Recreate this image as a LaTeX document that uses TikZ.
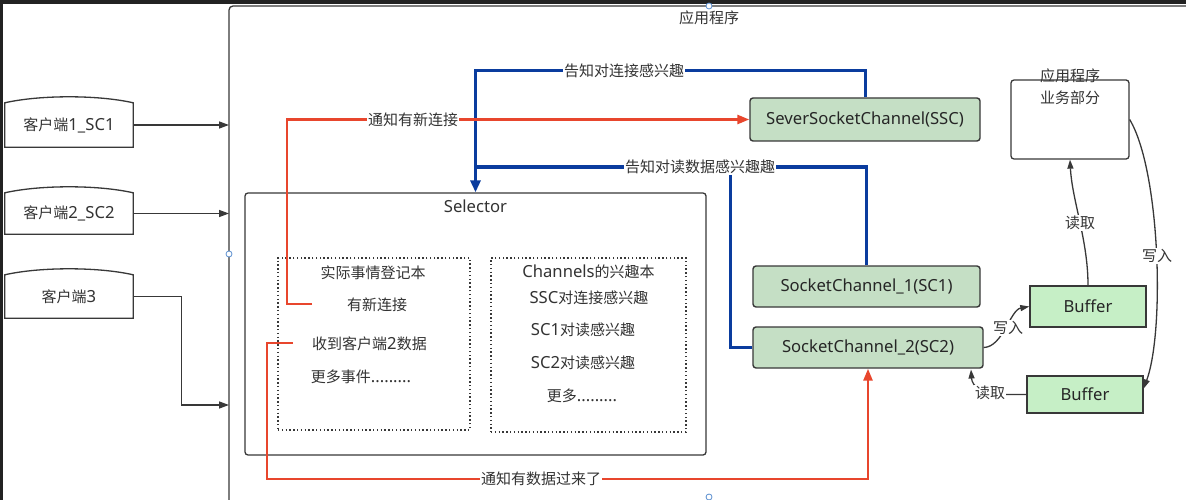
\documentclass[tikz,border=0pt]{standalone}
\usepackage{fontspec}
\setmainfont{Noto Sans CJK SC}
\newfontfamily\lat[Scale=1.11]{Noto Sans}
\usetikzlibrary{arrows.meta}
\definecolor{txt}{HTML}{333333}
\definecolor{chg}{HTML}{C5DFC5}
\definecolor{bufg}{HTML}{C6EFC6}
\definecolor{blu}{HTML}{0A3C9E}
\definecolor{rd}{HTML}{E8462D}
\definecolor{edgec}{HTML}{383838}
\definecolor{hdl}{HTML}{5B8FD0}
\definecolor{framec}{HTML}{222222}
\begin{document}
\begin{tikzpicture}[x=1pt,y=-1pt,
  font=\fontsize{15}{18}\selectfont,
  every node/.style={text=txt},
  chbox/.style={draw=edgec, line width=1.4pt, fill=chg, rounded corners=3pt, inner sep=0pt, text=black!85},
  bufbox/.style={draw=edgec, line width=1.4pt, fill=bufg, inner sep=0pt, text=black!85},
  plainbox/.style={draw=edgec, line width=1.3pt, rounded corners=3pt, inner sep=0pt},
  dotbox/.style={draw=edgec, line width=1.2pt, dash pattern=on 1.4pt off 2.4pt, inner sep=0pt},
  clientbox/.style={draw=none, inner sep=0pt},
  clientshape/.style={draw=edgec, line width=1.3pt},
  arr/.style={draw=edgec, line width=1.3pt, -{Triangle[length=10pt,width=7pt]}},
  blk/.style={draw=edgec, line width=1.3pt, -{Triangle[length=9pt,width=6pt]}},
  bl/.style={draw=blu, line width=3pt},
  bla/.style={bl, -{Triangle[length=12pt,width=10pt]}},
  rl/.style={draw=rd, line width=2.6pt},
  rla/.style={rl, -{Triangle[length=12pt,width=9pt]}},
  lbl/.style={fill=white, inner sep=1pt},
  handle/.style={draw=hdl, fill=white, line width=0.8pt}
]
\useasboundingbox (0,0) rectangle (1186,500);
\fill[white] (0,0) rectangle (1186,500);
\fill[framec] (0,0) rectangle (1186,4);
\fill[framec] (0,0) rectangle (3,500);

% application frame
\draw[edgec, line width=1.3pt, rounded corners=4pt] (1186,6) -- (229,6) -- (229,500);
\coordinate (appL) at (229,6);
\node (apptitle) at (709,18) {应用程序};

% clients
\node[clientbox, minimum width=128pt, minimum height=44pt] (c1) at (69,125) {客户端{\lat 1\_SC1}};
\node[clientbox, minimum width=128pt, minimum height=41pt] (c2) at (69,213.5) {客户端{\lat 2\_SC2}};
\node[clientbox, minimum width=128pt, minimum height=43pt] (c3) at (69,296.5) {客户端{\lat 3}};
\foreach \c in {c1,c2,c3}{
  \draw[clientshape] (\c.south west) -- (\c.north west) .. controls +(35,-8) and +(-35,-8) .. (\c.north east) -- (\c.south east) -- cycle;
}
\coordinate (c3in) at (229,405);
\draw[arr] (c1.east) -- (c1.east -| appL);
\draw[arr] (c2.east) -- (c2.east -| appL);
\draw[arr] (c3.east) -- ++(48,0) |- (c3in);

% selector
\node[plainbox, minimum width=461pt, minimum height=262pt] (sel) at (475.5,324) {};
\node (seltitle) at (475.5,206) {\lat Selector};
\node[dotbox, minimum width=192pt, minimum height=172pt] (reg) at (374,344) {};
\node[dotbox, minimum width=195pt, minimum height=174pt] (intr) at (588.5,345) {};
\node (t1) at (373,273) {实际事情登记本};
\node (t2) at (377,305) {有新连接};
\node (t3) at (369.5,344) {收到客户端{\lat 2}数据};
\node (t4) at (361,377) {更多事件{\lat .........}};
\node (u1) at (588.5,272) {{\lat Channels}的兴趣本};
\node (u2) at (589,298) {{\lat SSC}对连接感兴趣};
\node (u3) at (583,330) {{\lat SC1}对读感兴趣};
\node (u4) at (583,363) {{\lat SC2}对读感兴趣};
\node (u5) at (582,396) {更多{\lat .........}};

% channels
\node[chbox, minimum width=230pt, minimum height=43pt] (ssc) at (865,119.5) {\lat SeverSocketChannel(SSC)};
\node[chbox, minimum width=227pt, minimum height=41pt] (sc1) at (866.5,286.5) {\lat SocketChannel\_1(SC1)};
\node[chbox, minimum width=230pt, minimum height=41pt] (sc2) at (868,347.5) {\lat SocketChannel\_2(SC2)};

% business box and buffers
\node[plainbox, fill=white, minimum width=118pt, minimum height=79pt] (app) at (1070,119.5) {};
\node[align=center, inner sep=0pt, font=\fontsize{15}{22}\selectfont] (apptxt) at (1070,87) {应用程序\\业务部分};
\node[bufbox, minimum width=116pt, minimum height=41pt] (buf1) at (1088,306.5) {\lat Buffer};
\node[bufbox, minimum width=116pt, minimum height=37pt] (buf2) at (1085,394.5) {\lat Buffer};

% blue connectors
\coordinate (bTL) at (475.5,71);
\coordinate (bJ) at (475.5,167);
\coordinate (bL) at (730,167);
\draw[bl] (sc1.north) |- (bJ);
\draw[bl] (sc2.west) -| (bL);
\draw[bla] (ssc.north) |- (bTL) -- (sel.north);
\node[lbl] (lb1) at (624,71) {告知对连接感兴趣};
\node[lbl] (lb2) at (700,167) {告知对读数据感兴趣趣};

% red connectors
\coordinate (r1s) at (312,304);
\coordinate (r1c) at (287,119.5);
\coordinate (r2s) at (293,343);
\coordinate (r2c) at (267,479);
\draw[rla] (r1s) -| (r1c) -- (ssc.west);
\draw[rla] (r2s) -| (r2c) -| (sc2.south);
\node[lbl] (lr1) at (413,120) {通知有新连接};
\node[lbl] (lr2) at (541,479) {通知有数据过来了};

% black curved connectors
\coordinate (sc2in) at (971,369.5);
\draw[blk] (sc2.east) .. controls (1003,347) and (1010,310) .. (buf1.west);
\draw[blk] (buf2.west) -- (1000,394.5) .. controls (982,394.5) and (972,386) .. (sc2in);
\draw[blk] (buf1.north) .. controls (1088,240) and (1072,200) .. (app.south);
\draw[blk] (app.east) .. controls (1160,170) and (1165,330) .. ([yshift=6pt]buf2.east);
\node[lbl] (lw1) at (1008,328) {写入};
\node[lbl] (lrd1) at (990,393) {读取};
\node[lbl] (lrd2) at (1080,223) {读取};
\node[lbl] (lw2) at (1157,256) {写入};

% selection handles
\draw[handle] (709,6) circle (3pt);
\draw[handle] (229,254) circle (3pt);
\draw[handle] (709,497) circle (3pt);
\end{tikzpicture}
\end{document}
